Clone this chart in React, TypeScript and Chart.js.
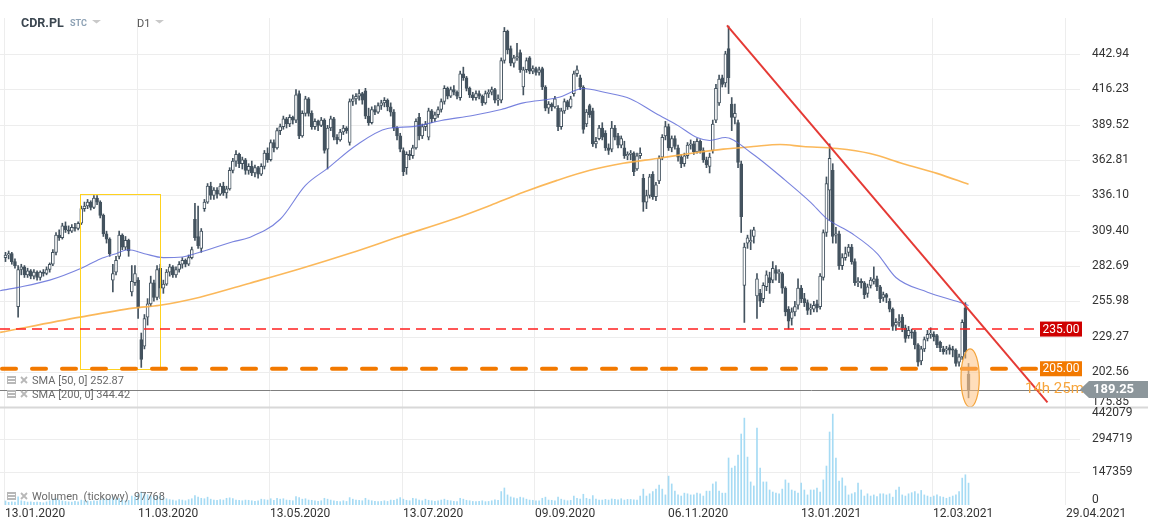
import React, { useEffect, useRef } from 'react';
import { Chart, registerables } from 'chart.js';

Chart.register(...registerables);

// ---------- DATA ----------
const opens = [
  289,291,292,286,252,280,282,276,279,275,
  278,274,278,277,280,284,293,306,304,313,
  310,309,312,311,315,326,328,331,327,334,
  331,321,307,303,272,278,290,306,297,302,
  263,270,272,227,222,244,254,270,259,281,
  266,269,278,282,276,280,284,287,284,289,
  318,305,296,326,331,343,336,340,337,343,
  338,341,355,362,367,360,363,355,358,353,
  357,352,358,368,363,376,372,385,388,394,
  390,395,393,413,381,398,409,398,388,392,
  389,393,371,387,394,380,378,384,387,376,
  407,409,411,413,415,396,391,401,399,404,
  406,408,403,399,387,381,370,357,367,366,
  372,395,381,388,380,400,394,397,401,407,
  417,411,416,414,410,428,425,417,412,410,
  413,411,406,413,414,416,408,408,438,460,
  447,436,440,444,418,431,440,430,432,429,
  432,418,402,405,403,402,388,400,407,403,
  413,428,425,418,390,404,400,375,379,387,
  383,372,371,387,381,374,372,366,367,368,
  356,366,349,331,336,352,335,347,365,381,
  388,372,379,372,365,360,366,374,375,369,
  377,370,363,358,370,393,406,425,421,447,
  405,395,391,360,268,300,301,305,260,262,
  258,267,274,272,280,277,277,266,250,243,
  248,253,266,258,255,250,250,254,252,274,
  308,340,355,306,307,283,289,293,297,286,
  270,271,270,262,268,271,273,267,259,261,
  256,250,238,240,244,236,230,233,233,223,
  211,220,228,231,231,230,225,220,219,221,
  220,219,210,214,251,201,
];
const highs = [
  293,294,293,288,283,284,283,281,280,280,
  279,279,280,282,285,295,308,310,315,316,
  313,314,315,316,328,331,333,332,336,336,
  332,322,309,304,284,290,309,307,305,303,
  283,283,274,232,246,258,275,272,283,284,
  272,280,284,283,282,286,289,288,291,297,
  330,328,311,333,345,346,342,342,345,346,
  343,357,364,370,368,365,364,360,362,359,
  358,360,370,372,378,378,387,390,396,395,
  397,396,416,415,400,411,410,400,394,393,
  395,394,389,396,395,382,386,389,388,409,
  412,413,416,414,417,402,403,404,406,408,
  410,409,406,401,388,383,372,369,370,374,
  394,398,390,392,402,401,399,403,409,419,
  418,418,419,415,430,433,426,418,414,415,
  415,412,415,416,418,417,412,440,463,461,
  449,442,451,446,433,440,441,434,433,433,
  433,419,407,406,411,404,402,409,408,411,
  430,434,427,419,401,405,402,380,389,391,
  385,375,392,389,383,381,377,369,370,369,
  368,372,352,340,352,354,346,366,382,392,
  390,381,381,374,367,368,376,378,377,379,
  378,372,365,368,393,420,427,427,445,464,
  410,405,393,362,300,306,310,312,277,265,
  270,279,278,286,283,280,278,267,252,251,
  256,273,268,262,257,254,256,257,277,310,
  350,375,360,312,309,292,297,299,299,288,
  274,273,271,269,274,282,275,268,263,262,
  258,251,243,246,246,238,237,235,234,224,
  222,229,234,236,233,231,226,222,222,223,
  222,220,216,242,255,209,
];
const lows = [
  286,288,284,281,244,276,274,274,273,273,
  272,272,275,276,278,283,291,302,303,308,
  307,308,309,310,314,324,326,325,326,329,
  319,305,300,290,263,276,288,295,295,290,
  260,268,243,206,220,238,252,256,257,258,
  262,268,275,274,274,278,281,282,283,288,
  302,296,293,324,330,333,333,334,336,336,
  334,340,353,358,357,356,352,352,351,350,
  349,351,356,361,362,369,371,382,386,387,
  388,390,391,379,380,396,396,386,386,385,
  388,368,356,385,378,375,377,382,383,374,
  404,405,408,405,394,389,390,397,398,401,
  403,400,396,385,378,369,351,352,363,364,
  371,378,379,385,378,391,392,395,399,405,
  409,410,412,409,408,423,415,410,408,408,
  409,404,405,410,412,406,404,406,436,443,
  434,433,438,429,412,429,428,428,427,427,
  416,400,398,400,402,385,386,398,401,402,
  411,426,416,383,388,395,373,372,378,378,
  370,367,369,378,372,372,364,363,363,351,
  355,364,324,326,334,333,332,345,363,378,
  370,369,371,362,357,358,364,371,367,368,
  368,361,357,353,368,391,404,418,418,413,
  385,390,357,308,240,296,295,300,243,252,
  255,264,262,270,272,270,262,245,235,238,
  245,250,255,252,246,246,248,248,250,272,
  305,317,300,300,280,280,287,290,284,268,
  267,266,258,259,266,269,264,255,256,255,
  248,234,234,237,233,225,228,228,220,207,
  208,218,226,228,226,221,218,216,216,216,
  214,207,207,212,213,183,
];
const closes = [
  291,292,286,283,280,282,276,279,275,278,
  274,278,277,280,284,293,306,304,313,310,
  309,312,311,315,326,328,331,327,334,331,
  321,307,303,292,277,287,306,297,302,294,
  271,277,251,212,243,254,270,259,280,266,
  269,278,282,276,280,284,287,284,289,295,
  304,298,309,331,343,336,340,337,343,338,
  341,355,362,367,360,363,355,358,353,357,
  352,358,368,363,376,372,385,388,394,390,
  395,393,412,381,398,409,398,388,392,389,
  393,370,387,394,380,378,384,387,385,407,
  409,411,413,408,396,391,401,399,404,406,
  408,403,399,387,381,371,354,367,366,372,
  392,381,388,390,400,394,397,401,407,417,
  411,416,414,411,428,425,417,412,410,413,
  411,406,413,414,416,408,409,438,460,446,
  436,440,441,431,431,438,430,432,429,431,
  418,402,405,403,409,388,400,407,403,409,
  428,431,418,386,399,397,375,377,387,380,
  372,370,387,380,374,379,366,367,368,354,
  366,368,331,336,350,335,344,364,380,388,
  372,379,373,365,360,366,374,375,369,377,
  370,363,359,365,390,417,424,420,443,425,
  395,398,361,320,297,304,302,310,273,256,
  268,276,270,281,277,278,266,248,241,248,
  252,266,258,255,249,251,253,251,275,308,
  345,364,305,307,283,289,292,297,286,270,
  271,270,261,267,272,273,267,258,261,259,
  250,237,240,241,236,228,234,232,223,210,
  220,227,231,232,229,223,221,218,220,219,
  219,209,214,240,218,189.25,
];
// tick volume, in thousands
const volumesK = [
  18,12,14,13,36,19,16,13,14,12,
  13,12,10,14,19,26,29,22,18,16,
  14,13,16,14,22,19,18,16,19,18,
  22,29,26,27,36,26,29,22,19,21,
  40,35,48,58,52,46,42,37,40,43,
  32,28,24,22,19,24,22,19,24,28,
  42,35,30,28,35,26,22,21,24,22,
  30,32,29,22,21,19,22,21,19,16,
  19,26,24,22,28,21,30,26,28,22,
  21,19,38,33,26,28,22,21,19,16,
  19,30,26,22,19,16,15,19,16,33,
  26,22,21,19,30,22,19,16,15,16,
  19,16,22,21,26,33,26,21,19,30,
  28,22,19,26,21,19,16,19,22,26,
  21,19,16,15,30,26,21,19,16,15,
  16,19,15,16,19,23,21,60,76,45,
  36,32,29,35,32,26,22,21,19,19,
  30,35,22,21,19,35,26,22,19,21,
  40,30,26,48,30,26,42,26,22,22,
  25,22,27,25,23,28,22,25,25,23,
  22,40,71,40,50,60,71,89,71,45,
  129,94,62,45,40,53,50,45,45,53,
  50,40,62,62,94,103,62,53,53,210,
  165,174,223,317,388,214,103,85,344,165,
  103,103,67,58,53,50,71,112,98,67,
  62,53,98,67,45,67,67,76,58,112,
  174,326,406,210,107,121,85,45,50,56,
  98,67,40,50,40,45,38,50,50,45,
  50,35,67,80,45,40,50,55,60,50,
  65,45,40,35,40,45,38,35,30,35,
  40,45,60,120,135,97.768,
];
const sma50Idx = [-1.7,4,14,24,30,35,39,44,50,56,62,72,77,87,95,102,111,121,129,138,148,157,164,175,183,190,198,206,213,219,223,228,236,247,255,260,268,276,282,292,302,305];
const sma50Val = [264,266.5,272,281,288,292,295,292,289,289.5,293.5,301,304,318,343.6,356.5,373.8,386.6,388,392.7,396.5,401,406,410,416.8,413.8,409,398,388.8,379.8,377.6,379.8,368.5,347.4,330.8,318.7,307.4,292.3,274,262.9,255.4,252.87];
const sma200Idx = [-1.7,23.6,40.4,48.9,61.6,77.4,93.3,109.1,124.9,141.7,153.5,164,174.7,185.1,195.6,206.4,216.8,227.3,236.8,245.3,252.6,263.4,273.8,284.3,295,305];
const sma200Val = [232.5,244,250.8,253,259.1,269.7,280.6,292.3,305,318,328.5,338.4,347.4,355,360.3,364,367.7,371,373,374.5,373,371.5,367.7,360,352.7,344.42];

const priceTicks = [175.85,202.56,229.27,255.98,282.69,309.40,336.10,362.81,389.52,416.23,442.94];
const volumeTicks = [0,147359,294719,442079];
const dateLabels = ['13.01.2020','11.03.2020','13.05.2020','13.07.2020','09.09.2020','06.11.2020','13.01.2021','12.03.2021','29.04.2021'];
const dateLabelIdx = [0,42,84,126,168,210,252,294,336];

const resistanceLevel = 235.0;
const supportLevel = 205.0;
const lastPrice = 189.25;
const trendIdx = [228.5, 330];
const trendPrice = [464.6, 179.6];
const boxIdx = [23.6, 48.9];
const boxPrice = [205.0, 336.9];
const ellipseIdx = [302.6, 308.4];
const ellipsePrice = [176.0, 220.0];
const sma50Last = '252.87';
const sma200Last = '344.42';
const volumeLast = '97768';

// ---------- STYLE ----------
const FONT = 'Roboto, "Noto Sans", "DejaVu Sans", sans-serif';
const CANDLE = '#44535f';

function drawIcon(ctx: CanvasRenderingContext2D, y: number) {
  ctx.save();
  ctx.fillStyle = '#b8b8b8';
  ctx.fillRect(7, y - 4, 9, 8);
  ctx.strokeStyle = '#ffffff';
  ctx.lineWidth = 1;
  ctx.beginPath();
  ctx.moveTo(8, y - 1.5); ctx.lineTo(15, y - 1.5);
  ctx.moveTo(8, y + 1.5); ctx.lineTo(15, y + 1.5);
  ctx.stroke();
  ctx.strokeStyle = '#b8b8b8';
  ctx.lineWidth = 1.8;
  ctx.beginPath();
  ctx.moveTo(21, y - 3); ctx.lineTo(27, y + 3);
  ctx.moveTo(27, y - 3); ctx.lineTo(21, y + 3);
  ctx.stroke();
  ctx.restore();
}

const overlay = {
  id: 'overlay',
  beforeDatasetsDraw(chart: any) {
    const { ctx, chartArea: a } = chart;
    const xs = chart.scales.x, yp = chart.scales.y, yv = chart.scales.yv;
    ctx.save();
    ctx.strokeStyle = '#ededed';
    ctx.lineWidth = 1;
    ctx.beginPath();
    dateLabelIdx.forEach((i) => {
      const x = Math.round(xs.getPixelForValue(i - 0.5)) + 0.5;
      ctx.moveTo(x, a.top); ctx.lineTo(x, a.bottom);
    });
    priceTicks.forEach((t) => {
      const y = Math.round(yp.getPixelForValue(t)) + 0.5;
      if (y < 404) { ctx.moveTo(a.left, y); ctx.lineTo(a.right, y); }
    });
    volumeTicks.forEach((t) => {
      const y = Math.round(yv.getPixelForValue(t)) + 0.5;
      if (y > 412 && y < 502) { ctx.moveTo(a.left, y); ctx.lineTo(a.right, y); }
    });
    ctx.stroke();
    ctx.restore();
  },
  afterDatasetsDraw(chart: any) {
    const { ctx } = chart;
    const xs = chart.scales.x, yp = chart.scales.y;
    const px = (v: number) => xs.getPixelForValue(v);
    const py = (v: number) => yp.getPixelForValue(v);
    ctx.save();
    // yellow box
    ctx.strokeStyle = '#ffd21f';
    ctx.lineWidth = 1;
    const bx1 = Math.round(px(boxIdx[0])) + 0.5, bx2 = Math.round(px(boxIdx[1])) + 0.5;
    const by1 = Math.round(py(boxPrice[1])) + 0.5, by2 = Math.round(py(boxPrice[0])) + 0.5;
    ctx.strokeRect(bx1, by1, bx2 - bx1, by2 - by1);
    // resistance red dashed
    const yR = Math.round(py(resistanceLevel));
    ctx.strokeStyle = '#ff1f1f';
    ctx.lineWidth = 1.5;
    ctx.setLineDash([10, 6]);
    ctx.beginPath(); ctx.moveTo(0, yR); ctx.lineTo(1040, yR); ctx.stroke();
    // last price gray line
    const yL = Math.round(py(lastPrice)) + 0.5;
    ctx.setLineDash([]);
    ctx.lineWidth = 1;
    ctx.strokeStyle = '#7f7f7f';
    ctx.beginPath(); ctx.moveTo(0, yL); ctx.lineTo(1082, yL); ctx.stroke();
    // support orange thick dashed
    const yS = py(supportLevel);
    ctx.strokeStyle = '#f27900';
    ctx.lineWidth = 4;
    ctx.lineCap = 'round';
    ctx.setLineDash([14, 16]);
    ctx.beginPath(); ctx.moveTo(2, yS); ctx.lineTo(1040, yS); ctx.stroke();
    ctx.setLineDash([]);
    ctx.lineCap = 'butt';
    // trend line
    ctx.strokeStyle = '#e53a35';
    ctx.lineWidth = 2;
    ctx.beginPath();
    ctx.moveTo(px(trendIdx[0]), py(trendPrice[0]));
    ctx.lineTo(px(trendIdx[1]), py(trendPrice[1]));
    ctx.stroke();
    // ellipse
    const ecx = (px(ellipseIdx[0]) + px(ellipseIdx[1])) / 2;
    const ecy = (py(ellipsePrice[0]) + py(ellipsePrice[1])) / 2;
    const erx = (px(ellipseIdx[1]) - px(ellipseIdx[0])) / 2;
    const ery = (py(ellipsePrice[0]) - py(ellipsePrice[1])) / 2;
    ctx.beginPath();
    ctx.ellipse(ecx, ecy, erx, ery, 0, 0, Math.PI * 2);
    ctx.fillStyle = 'rgba(255,190,120,0.5)';
    ctx.fill();
    ctx.strokeStyle = '#f3a33a';
    ctx.lineWidth = 1.2;
    ctx.stroke();
    // panel separator
    ctx.strokeStyle = '#d8d8d8';
    ctx.lineWidth = 2;
    ctx.beginPath(); ctx.moveTo(0, 407.5); ctx.lineTo(1148, 407.5); ctx.stroke();
    ctx.restore();
  },
  afterDraw(chart: any) {
    const { ctx, chartArea: a } = chart;
    const xs = chart.scales.x, yp = chart.scales.y, yv = chart.scales.yv;
    const py = (v: number) => yp.getPixelForValue(v);
    ctx.save();
    ctx.textBaseline = 'middle';
    // price axis labels
    ctx.font = `12px ${FONT}`;
    ctx.fillStyle = '#333333';
    ctx.textAlign = 'left';
    priceTicks.forEach((t) => {
      const y = Math.min(Math.max(py(t), a.top + 7), 402);
      ctx.fillText(t.toFixed(2), 1092, y);
    });
    volumeTicks.forEach((t) => {
      const y = Math.min(Math.max(yv.getPixelForValue(t), 413), 500);
      ctx.fillText(String(t), 1092, y);
    });
    // date labels
    dateLabels.forEach((lab, k) => {
      const x = Math.round(xs.getPixelForValue(dateLabelIdx[k] - 0.5)) + 1;
      ctx.fillText(lab, x, 514);
    });
    // level tags
    const tag = (v: number, color: string) => {
      const y = py(v);
      ctx.fillStyle = color;
      ctx.fillRect(1040, y - 7.5, 42, 15);
      ctx.fillStyle = '#ffffff';
      ctx.textAlign = 'center';
      ctx.font = `12px ${FONT}`;
      ctx.fillText(v.toFixed(2), 1061, y + 0.5);
      ctx.textAlign = 'left';
    };
    tag(resistanceLevel, '#cf0000');
    tag(supportLevel, '#f27900');
    // countdown text
    const yL = py(lastPrice);
    ctx.font = `15px ${FONT}`;
    ctx.fillStyle = '#f7a53c';
    ctx.fillText('14h 25m', 1025, yL);
    // last price tag
    ctx.fillStyle = '#8c969b';
    ctx.beginPath();
    ctx.moveTo(1080, yL);
    ctx.lineTo(1089, yL - 8.5);
    ctx.lineTo(1148, yL - 8.5);
    ctx.lineTo(1148, yL + 8.5);
    ctx.lineTo(1089, yL + 8.5);
    ctx.closePath();
    ctx.fill();
    ctx.fillStyle = '#ffffff';
    ctx.font = `bold 13px ${FONT}`;
    ctx.fillText(lastPrice.toFixed(2), 1093, yL + 0.5);
    // header
    ctx.font = `bold 12.5px ${FONT}`;
    ctx.fillStyle = '#3b4650';
    ctx.fillText('CDR.PL', 21, 24);
    ctx.font = `bold 9px ${FONT}`;
    ctx.fillStyle = '#8ea2b5';
    ctx.fillText('STC', 70, 24);
    ctx.font = `11px ${FONT}`;
    ctx.fillStyle = '#555555';
    ctx.fillText('D1', 137, 24);
    ctx.fillStyle = '#c9c9c9';
    [92, 155].forEach((x) => {
      ctx.beginPath();
      ctx.moveTo(x, 20); ctx.lineTo(x + 9, 20); ctx.lineTo(x + 4.5, 23.5);
      ctx.closePath(); ctx.fill();
    });
    // legends
    ctx.font = `11px ${FONT}`;
    ctx.fillStyle = '#6a6a6a';
    drawIcon(ctx, 380);
    ctx.fillText(`SMA [50, 0] ${sma50Last}`, 32, 381);
    drawIcon(ctx, 394);
    ctx.fillText(`SMA [200, 0] ${sma200Last}`, 32, 395);
    drawIcon(ctx, 496);
    ctx.fillStyle = '#6a6a6a';
    ctx.fillText(`Wolumen  (tickowy)  ${volumeLast}`, 32, 497);
    ctx.restore();
  },
};

export default function App() {
  const ref = useRef<HTMLCanvasElement>(null);
  useEffect(() => {
    document.body.style.margin = '0';
    const canvas = ref.current!;
    const n = closes.length;
    const idx = closes.map((_, i) => i);
    const wickData = idx.map((i) => ({ x: i, y: [lows[i], highs[i]] }));
    const bodyData = idx.map((i) => ({ x: i, y: [opens[i], closes[i]] }));
    const bodyFill = idx.map((i) => (i === n - 1 ? '#7d7d7d' : closes[i] >= opens[i] ? '#ffffff' : CANDLE));
    const lineCol = idx.map((i) => (i === n - 1 ? '#7d7d7d' : CANDLE));
    const volData = idx.map((i) => ({ x: i, y: volumesK[i] * 1000 }));
    const sma50 = sma50Idx.map((x, k) => ({ x, y: sma50Val[k] }));
    const sma200 = sma200Idx.map((x, k) => ({ x, y: sma200Val[k] }));

    const chart = new Chart(canvas, {
      type: 'bar',
      data: {
        datasets: [
          {
            type: 'line', label: 'SMA50', data: sma50, yAxisID: 'y',
            borderColor: 'rgba(88,100,214,0.8)', borderWidth: 1.1, pointRadius: 0,
            cubicInterpolationMode: 'monotone', order: 1,
          } as any,
          {
            type: 'line', label: 'SMA200', data: sma200, yAxisID: 'y',
            borderColor: 'rgba(251,176,72,0.9)', borderWidth: 1.6, pointRadius: 0,
            cubicInterpolationMode: 'monotone', order: 2,
          } as any,
          {
            type: 'bar', label: 'body', data: bodyData, yAxisID: 'y',
            backgroundColor: bodyFill, borderColor: lineCol, borderWidth: 1,
            borderSkipped: false, barThickness: 3, grouped: false, minBarLength: 1, order: 3,
          } as any,
          {
            type: 'bar', label: 'wick', data: wickData, yAxisID: 'y',
            backgroundColor: lineCol, barThickness: 1, grouped: false, order: 4,
          } as any,
          {
            type: 'bar', label: 'vol', data: volData, yAxisID: 'yv',
            backgroundColor: '#a6dbf4', barThickness: 1, grouped: false, order: 5,
          } as any,
        ],
      },
      options: {
        responsive: false,
        animation: false,
        devicePixelRatio: 1,
        events: [],
        layout: { padding: { left: 0, right: 71, top: 18, bottom: 24 } },
        plugins: { legend: { display: false }, tooltip: { enabled: false } },
        scales: {
          x: { type: 'linear', min: -1.74, max: 340.3, display: false, offset: false },
          y: { type: 'linear', min: 102.0, max: 470.15, display: false },
          yv: { type: 'linear', min: 0, max: 2174671, display: false },
        },
      } as any,
      plugins: [overlay as any],
    });
    return () => chart.destroy();
  }, []);

  return (
    <div style={{ position: 'relative', width: 1151, height: 529, background: '#ffffff' }}>
      <canvas ref={ref} width={1151} height={529} style={{ display: 'block' }} />
    </div>
  );
}
